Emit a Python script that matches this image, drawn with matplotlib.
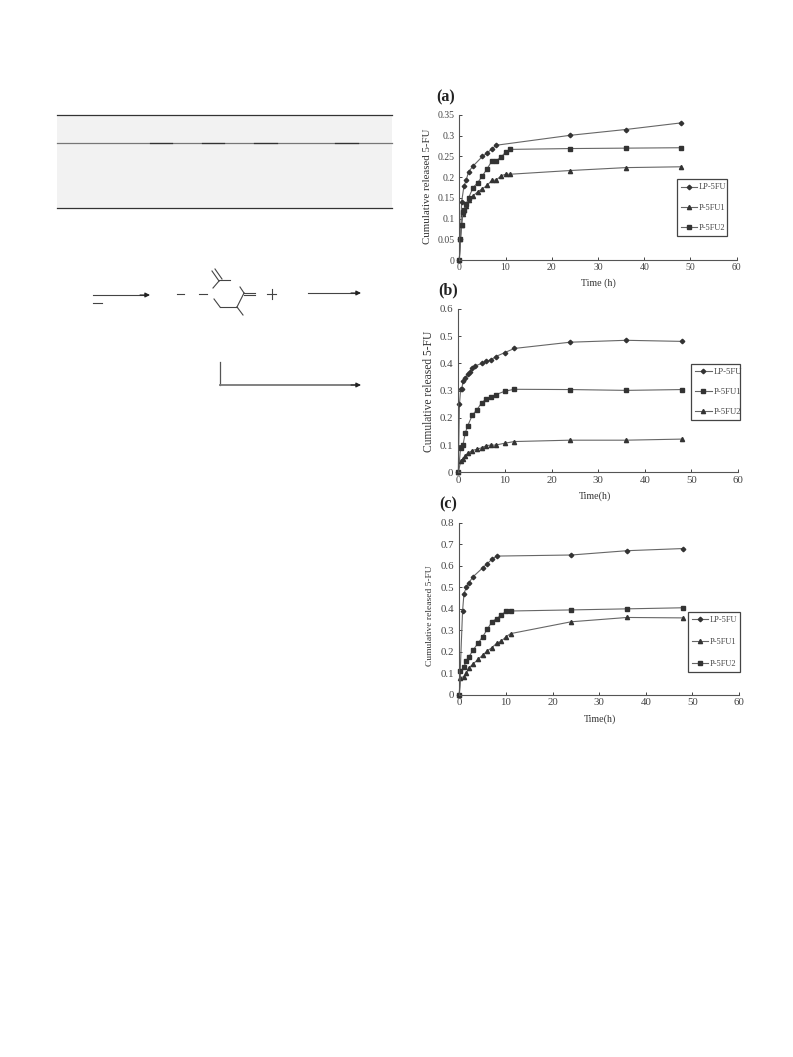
# -*- coding: utf-8 -*-
import matplotlib
matplotlib.use('Agg')
import matplotlib.pyplot as plt
from matplotlib.patches import Rectangle

plt.rcParams['font.family'] = ['Liberation Serif', 'DejaVu Serif']

W, H = 793, 1057

#release data
t_a = [0, 0.25, 0.5, 0.75, 1, 1.5, 2, 3, 4, 5, 6, 7, 8, 9, 10, 11, 24, 36, 48]
a_lp_t = [0, 0.25, 0.5, 1, 1.5, 2, 3, 5, 6, 7, 8, 24, 36, 48]
a_lp = [0, 0.05, 0.14, 0.178, 0.193, 0.213, 0.227, 0.25, 0.258, 0.268, 0.277, 0.301, 0.315, 0.331]
a_p1 = [0, 0.05, 0.085, 0.11, 0.12, 0.13, 0.145, 0.155, 0.165, 0.172, 0.18, 0.192, 0.193, 0.203, 0.207, 0.207, 0.216, 0.223, 0.225]
a_p2 = [0, 0.05, 0.085, 0.115, 0.12, 0.135, 0.15, 0.175, 0.187, 0.203, 0.22, 0.238, 0.24, 0.248, 0.26, 0.267, 0.269, 0.27, 0.271]

t_b = [0, 0.5, 1, 1.5, 2, 3, 4, 5, 6, 7, 8, 10, 12, 24, 36, 48]
b_lp_t = [0, 0.25, 0.5, 0.75, 1, 1.5, 2, 2.5, 3, 3.5, 5, 6, 7, 8, 10, 12, 24, 36, 48]
b_lp = [0, 0.25, 0.305, 0.305, 0.335, 0.345, 0.36, 0.37, 0.385, 0.39, 0.4, 0.408, 0.413, 0.425, 0.44, 0.455, 0.478, 0.485, 0.481]
b_p1 = [0, 0.09, 0.1, 0.145, 0.17, 0.21, 0.23, 0.255, 0.27, 0.277, 0.285, 0.298, 0.305, 0.304, 0.301, 0.304]
b_p2 = [0, 0.04, 0.05, 0.06, 0.07, 0.08, 0.085, 0.09, 0.098, 0.1, 0.1, 0.107, 0.113, 0.118, 0.118, 0.122]

c_lp_t = [0, 0.7, 1, 1.5, 2, 3, 5, 6, 7, 8, 24, 36, 48]
c_lp = [0, 0.39, 0.47, 0.5, 0.52, 0.55, 0.59, 0.61, 0.63, 0.645, 0.65, 0.67, 0.68]
t_c = [0, 0.25, 1, 1.5, 2, 3, 4, 5, 6, 7, 8, 9, 10, 11, 24, 36, 48]
c_p1 = [0, 0.08, 0.085, 0.1, 0.125, 0.145, 0.165, 0.185, 0.205, 0.22, 0.24, 0.25, 0.27, 0.285, 0.34, 0.36, 0.358]
c_p2 = [0, 0.11, 0.13, 0.16, 0.175, 0.21, 0.24, 0.27, 0.305, 0.34, 0.355, 0.37, 0.39, 0.39, 0.395, 0.4, 0.405]

x_ticks = [0, 10, 20, 30, 40, 50, 60]
a_yticks = [0, 0.05, 0.1, 0.15, 0.2, 0.25, 0.3, 0.35]
a_ylabels = ['0', '0.05', '0.1', '0.15', '0.2', '0.25', '0.3', '0.35']
b_yticks = [0, 0.1, 0.2, 0.3, 0.4, 0.5, 0.6]
b_ylabels = ['0', '0.1', '0.2', '0.3', '0.4', '0.5', '0.6']
c_yticks = [0, 0.1, 0.2, 0.3, 0.4, 0.5, 0.6, 0.7, 0.8]
c_ylabels = ['0', '0.1', '0.2', '0.3', '0.4', '0.5', '0.6', '0.7', '0.8']

fig = plt.figure(figsize=(W / 100, H / 100), dpi=100)

#full page axes in pixel coords for the table shading and the scheme lines
page = fig.add_axes([0, 0, 1, 1])
page.set_xlim(0, W)
page.set_ylim(H, 0)
page.axis('off')

page.add_patch(Rectangle((57, 115), 335, 93, color='#f2f2f2', lw=0))
page.plot([57, 392], [115, 115], color='#333333', lw=0.9)
page.plot([57, 392], [143, 143], color='#777777', lw=0.9)
page.plot([57, 392], [208, 208], color='#333333', lw=0.9)
for x1, x2 in [(150, 172), (202, 224), (254, 277), (335, 358)]:
    page.plot([x1, x2], [143, 143], color='#333333', lw=0.9)

scheme = [
    ([93, 147], [295, 295]), ([93, 102], [303, 303]),
    ([177, 184], [294, 294]), ([199, 207], [294, 294]),
    ([212, 219], [271, 281]), ([215, 222], [269, 279]),
    ([219, 230], [280, 280]), ([219, 213], [281, 288]),
    ([214, 220], [299, 307]), ([220, 237], [307, 307]),
    ([237, 243], [307, 315]), ([237, 244], [307, 293]),
    ([244, 240], [293, 287]), ([244, 255], [293, 293]), ([244, 255], [295, 295]),
    ([267, 276], [294, 294]), ([271.5, 271.5], [289, 299]),
]
for xs, ys in scheme:
    page.plot(xs, ys, color='#444444', lw=0.8)
for x1, y1, x2 in [(308, 293, 361), (93, 295, 150), (220, 385, 361)]:
    page.annotate('', xy=(x2, y1), xytext=(x2 - 10, y1),
                  arrowprops=dict(arrowstyle='-|>', color='#222222', lw=0.8, mutation_scale=7, shrinkA=0, shrinkB=0))
page.plot([308, 355], [293, 293], color='#444444', lw=0.8)
page.plot([219.5, 219.5], [362, 385], color='#555555', lw=0.9)
page.plot([219.5, 355], [385, 385], color='#777777', lw=1.3)


def panel(left, right, top, bottom, ymax, yticks, ylabels, series, fs):
    ax = fig.add_axes([left / W, 1 - bottom / H, (right - left) / W, (bottom - top) / H])
    for x, y, marker, label, ms in series:
        ax.plot(x, y, color='#666666', lw=0.8, marker=marker, ms=ms, mfc='#333333', mec='#333333',
                label=label, clip_on=False)
    ax.set_xlim(0, 60)
    ax.set_ylim(0, ymax)
    ax.set_xticks(x_ticks)
    ax.set_yticks(yticks)
    ax.set_yticklabels(ylabels)
    ax.tick_params(direction='in', length=2, width=0.7, labelsize=fs, colors='#444444')
    ax.tick_params(axis='y', pad=3.5)
    ax.tick_params(axis='x', pad=2.5)
    ax.spines['top'].set_visible(False)
    ax.spines['right'].set_visible(False)
    ax.spines['left'].set_color('#555555')
    ax.spines['bottom'].set_color('#555555')
    ax.patch.set_alpha(0)
    return ax


def legend_box(ax, x0, y0, x1, y1, fs, spacing):
    handles, labels = ax.get_legend_handles_labels()
    #box placed in pixel coords through the figure fractions
    fig_box = (x0 / W, 1 - y1 / H, (x1 - x0) / W, (y1 - y0) / H)
    leg = fig.legend(handles, labels, loc='center', bbox_to_anchor=fig_box, fontsize=fs, frameon=True,
                     fancybox=False, edgecolor='#444444', framealpha=1, handlelength=1.9, handletextpad=0.2,
                     labelspacing=spacing, borderpad=0.5, borderaxespad=0, mode='expand', labelcolor='#444444')
    leg.get_frame().set_linewidth(0.9)


ax_a = panel(459.3, 736.7, 115, 260, 0.35, a_yticks, a_ylabels, [
    (a_lp_t, a_lp, 'D', 'LP-5FU', 2.3),
    (t_a, a_p1, '^', 'P-5FU1', 3.0),
    (t_a, a_p2, 's', 'P-5FU2', 2.5)], 7)
legend_box(ax_a, 677, 178, 727, 237, 6, 1.45)

ax_b = panel(458.3, 738, 309, 472.3, 0.6, b_yticks, b_ylabels, [
    (b_lp_t, b_lp, 'D', 'LP-5FU', 2.3),
    (t_b, b_p1, 's', 'P-5FU1', 2.5),
    (t_b, b_p2, '^', 'P-5FU2', 3.0)], 7.8)
legend_box(ax_b, 691, 361, 740, 423, 6.2, 1.35)

ax_c = panel(459.3, 739, 522.7, 695, 0.8, c_yticks, c_ylabels, [
    (c_lp_t, c_lp, 'D', 'LP-5FU', 2.3),
    (t_c, c_p1, '^', 'P-5FU1', 3.0),
    (t_c, c_p2, 's', 'P-5FU2', 2.5)], 7.8)
legend_box(ax_c, 688, 609, 740, 675, 6, 1.65)

#axis titles and panel letters
for txt, x, y, fs in [('Time (h)', 598, 283, 7.2), ('Time(h)', 595, 496, 7.2), ('Time(h)', 600, 719, 7.2)]:
    page.text(x, y, txt, ha='center', va='center', fontsize=fs, color='#333333')
for x, y, fs in [(427, 186, 7.8), (429, 391, 8.3), (430, 616, 6.8)]:
    page.text(x, y, 'Cumulative released 5-FU', ha='center', va='center', rotation=90, fontsize=fs, color='#333333')
for txt, x, y in [('(a)', 446, 97), ('(b)', 448, 290), ('(c)', 448, 504)]:
    page.text(x, y, txt, ha='center', va='center', fontsize=11.5, fontweight='bold', color='#222222')

fig.savefig('out.png', dpi=100)
